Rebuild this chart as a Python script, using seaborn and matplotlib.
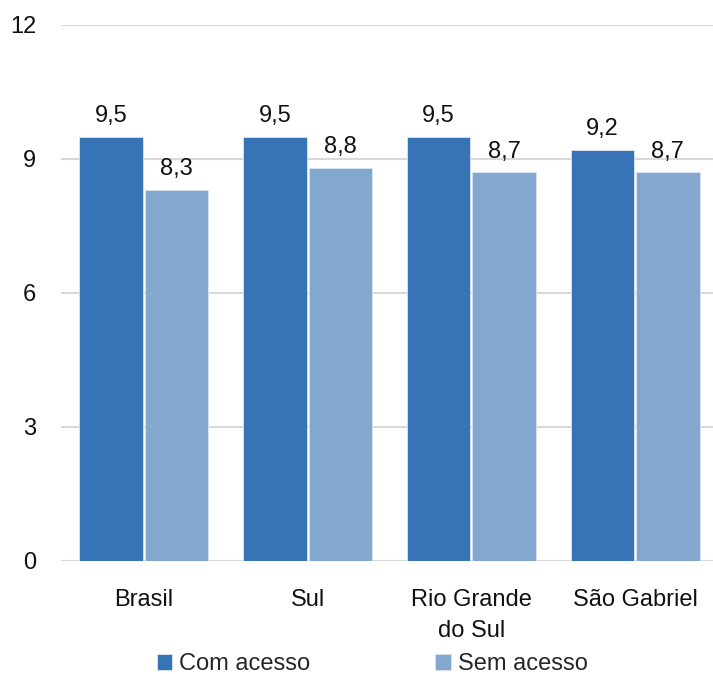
import matplotlib
matplotlib.use("Agg")
import matplotlib.pyplot as plt
import seaborn as sns
import pandas as pd

categories = ["Brasil", "Sul", "Rio Grande\ndo Sul", "São Gabriel"]
series = ["Com acesso", "Sem acesso"]
com_acesso = [9.5, 9.5, 9.5, 9.2]
sem_acesso = [8.3, 8.8, 8.7, 8.7]
yticks = [0, 3, 6, 9, 12]

df = pd.DataFrame({
    "cat": categories * 2,
    "serie": [series[0]] * 4 + [series[1]] * 4,
    "valor": com_acesso + sem_acesso,
})

sns.set_theme(style="white")
plt.rcParams["font.family"] = ["Liberation Sans", "DejaVu Sans"]
fs = 17

fig = plt.figure(figsize=(7.13, 6.74), dpi=100)
ax = fig.add_axes([0.0856, 0.1677, 0.9144, 0.7953])

palette = {"Com acesso": "#3674b5", "Sem acesso": "#82a8d0"}
sns.barplot(data=df, x="cat", y="valor", hue="serie", order=categories,
            hue_order=series, palette=palette, width=0.8, gap=0.03,
            saturation=1, ax=ax, edgecolor="#dbe6f2", linewidth=0.6)

for cont in ax.containers:
    labels = [f"{v:.1f}".replace(".", ",") for v in cont.datavalues]
    ax.bar_label(cont, labels=labels, padding=7, fontsize=fs, color="#111111")

ax.set_ylim(0, 12)
ax.set_xlim(-0.506, 3.476)
ax.set_yticks(yticks)
ax.set_yticklabels([str(t) for t in yticks], fontsize=fs, color="#111111")
ax.tick_params(axis="y", length=0, pad=18)
ax.tick_params(axis="x", length=0, pad=20, labelsize=fs, labelcolor="#111111")
for t in ax.get_xticklabels():
    t.set_linespacing(1.55)
ax.yaxis.grid(True, color="#d9d9d9", linewidth=1.5)
ax.set_axisbelow(True)
for s in ax.spines.values():
    s.set_visible(False)
ax.set_xlabel("")
ax.set_ylabel("")

leg = ax.get_legend()
handles, labs = ax.get_legend_handles_labels()
if leg is not None:
    leg.remove()
fig.legend(handles, labs, loc="lower center", bbox_to_anchor=(0.522, -0.033), ncol=2,
           frameon=False, fontsize=fs, handlelength=0.65, handleheight=0.65,
           handletextpad=0.3, columnspacing=5.3)

fig.savefig("out.png", dpi=100)
